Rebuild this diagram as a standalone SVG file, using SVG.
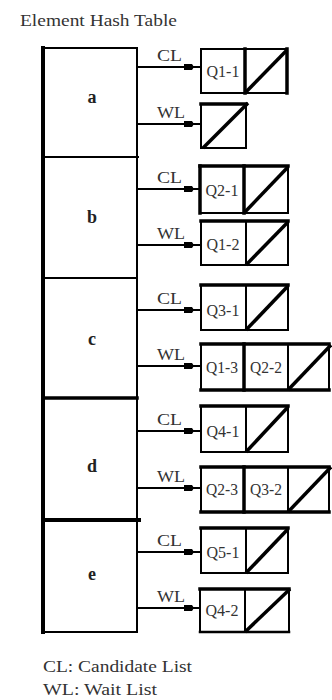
<svg xmlns="http://www.w3.org/2000/svg" width="332" height="700" viewBox="0 0 332 700">
<defs>
<marker id="blk" markerUnits="userSpaceOnUse" markerWidth="12" markerHeight="8" refX="10" refY="4" orient="auto">
<path d="M0,1 H8 L10,4 L8,7 H0 Z" fill="#000"/>
</marker>
</defs>
<style>
text{font-family:"Liberation Serif","Times New Roman",serif;fill:#333}
.t{font-size:17px}
.k{font-size:18px;font-weight:bold;fill:#222;text-anchor:middle}
.q{font-size:16px;text-anchor:middle}
.lb{font-size:16px}
.box{fill:#fff;stroke:#000;stroke-width:2}
.thk{stroke:#000;stroke-width:3.5;fill:none;stroke-linecap:square}
.thn{stroke:#000;stroke-width:2;fill:none}
.dg{stroke:#000;stroke-width:3.5;fill:none}
.cn{stroke:#000;stroke-width:2;fill:none;marker-mid:url(#blk)}
</style>
<rect width="332" height="700" fill="#fff"/>
<text class="t" x="20" y="26" textLength="157" lengthAdjust="spacingAndGlyphs">Element Hash Table</text>

<g id="hash-table">
<rect class="box" x="43" y="48" width="94" height="584"/>
<line class="thk" x1="43" y1="48" x2="43" y2="632" style="stroke-width:4"/>
<line class="thn" x1="43" y1="157" x2="139" y2="157"/>
<line class="thn" x1="43" y1="278" x2="137" y2="278"/>
<line class="thk" x1="43" y1="398" x2="137" y2="398"/>
<line class="thk" x1="43" y1="520" x2="139" y2="520" style="stroke-width:4"/>
</g>
<g id="row-a"><text class="k" x="92" y="103">a</text></g>
<g id="row-b"><text class="k" x="92" y="223">b</text></g>
<g id="row-c"><text class="k" x="92" y="345">c</text></g>
<g id="row-d"><text class="k" x="92" y="472">d</text></g>
<g id="row-e"><text class="k" x="92" y="580">e</text></g>

<g id="connectors">
<path class="cn" d="M137,67 H194 H201"/>
<path class="cn" d="M137,124 H194 H201"/>
<path class="cn" d="M137,189 H194 H201"/>
<path class="cn" d="M137,245 H194 H201"/>
<path class="cn" d="M137,310 H194 H201"/>
<path class="cn" d="M137,366 H194 H201"/>
<path class="cn" d="M137,431 H194 H201"/>
<path class="cn" d="M137,488 H194 H201"/>
<path class="cn" d="M137,552 H194 H201"/>
<path class="cn" d="M137,608 H194 H201"/>
<text class="lb" x="157" y="61" textLength="25" lengthAdjust="spacingAndGlyphs">CL</text>
<text class="lb" x="157" y="118" textLength="28" lengthAdjust="spacingAndGlyphs">WL</text>
<text class="lb" x="157" y="183" textLength="25" lengthAdjust="spacingAndGlyphs">CL</text>
<text class="lb" x="157" y="239" textLength="28" lengthAdjust="spacingAndGlyphs">WL</text>
<text class="lb" x="157" y="304" textLength="25" lengthAdjust="spacingAndGlyphs">CL</text>
<text class="lb" x="157" y="360" textLength="28" lengthAdjust="spacingAndGlyphs">WL</text>
<text class="lb" x="157" y="425" textLength="25" lengthAdjust="spacingAndGlyphs">CL</text>
<text class="lb" x="157" y="482" textLength="28" lengthAdjust="spacingAndGlyphs">WL</text>
<text class="lb" x="157" y="546" textLength="25" lengthAdjust="spacingAndGlyphs">CL</text>
<text class="lb" x="157" y="602" textLength="28" lengthAdjust="spacingAndGlyphs">WL</text>
</g>

<g id="a-cl">
<rect class="box" x="201" y="49" width="86" height="44"/>
<line class="thk" x1="245" y1="49" x2="245" y2="93"/>
<line class="thk" x1="287" y1="49" x2="287" y2="93"/>
<line class="dg" x1="245" y1="93" x2="287" y2="50"/>
<text class="q" x="223" y="77" textLength="33" lengthAdjust="spacingAndGlyphs">Q1-1</text>
</g>
<g id="a-wl">
<rect class="box" x="201" y="104" width="45" height="44"/>
<line class="thk" x1="201" y1="104" x2="246" y2="104"/>
<line class="dg" x1="203" y1="148" x2="248" y2="103"/>
</g>

<g id="b-cl">
<rect class="box" x="200" y="166" width="88" height="47"/>
<line class="thk" x1="200" y1="166" x2="288" y2="166"/>
<line class="thk" x1="200" y1="166" x2="200" y2="213"/>
<line class="thk" x1="244" y1="166" x2="244" y2="213"/>
<line class="dg" x1="244" y1="213" x2="288" y2="167"/>
<text class="q" x="222" y="196" textLength="33" lengthAdjust="spacingAndGlyphs">Q2-1</text>
</g>
<g id="b-wl">
<rect class="box" x="201" y="221" width="87" height="44"/>
<line class="thk" x1="201" y1="221" x2="288" y2="221"/>
<line class="thn" x1="246" y1="221" x2="246" y2="265"/>
<line class="dg" x1="246" y1="265" x2="288" y2="222"/>
<text class="q" x="223" y="250" textLength="33" lengthAdjust="spacingAndGlyphs">Q1-2</text>
</g>

<g id="c-cl">
<rect class="box" x="201" y="285" width="87" height="45"/>
<line class="thk" x1="201" y1="285" x2="288" y2="285"/>
<line class="thn" x1="246" y1="285" x2="246" y2="330"/>
<line class="dg" x1="246" y1="330" x2="288" y2="286"/>
<text class="q" x="223" y="316" textLength="33" lengthAdjust="spacingAndGlyphs">Q3-1</text>
</g>
<g id="c-wl">
<rect class="box" x="201" y="344" width="128" height="46"/>
<line class="thk" x1="201" y1="344" x2="329" y2="344"/>
<line class="thk" x1="201" y1="390" x2="329" y2="390"/>
<line class="thk" x1="244" y1="344" x2="244" y2="390"/>
<line class="thn" x1="288" y1="344" x2="288" y2="390"/>
<line class="dg" x1="288" y1="390" x2="331" y2="345"/>
<text class="q" x="222" y="373" textLength="32" lengthAdjust="spacingAndGlyphs">Q1-3</text>
<text class="q" x="266" y="373" textLength="32" lengthAdjust="spacingAndGlyphs">Q2-2</text>
</g>

<g id="d-cl">
<rect class="box" x="201" y="406" width="87" height="46"/>
<line class="thk" x1="201" y1="406" x2="288" y2="406"/>
<line class="thn" x1="246" y1="406" x2="246" y2="452"/>
<line class="dg" x1="246" y1="452" x2="288" y2="407"/>
<text class="q" x="223" y="437" textLength="33" lengthAdjust="spacingAndGlyphs">Q4-1</text>
</g>
<g id="d-wl">
<rect class="box" x="201" y="467" width="128" height="45"/>
<line class="thk" x1="201" y1="467" x2="329" y2="467"/>
<line class="thk" x1="201" y1="512" x2="329" y2="512"/>
<line class="thk" x1="244" y1="467" x2="244" y2="512"/>
<line class="thn" x1="288" y1="467" x2="288" y2="512"/>
<line class="dg" x1="288" y1="512" x2="331" y2="467"/>
<text class="q" x="222" y="495" textLength="32" lengthAdjust="spacingAndGlyphs">Q2-3</text>
<text class="q" x="266" y="495" textLength="32" lengthAdjust="spacingAndGlyphs">Q3-2</text>
</g>

<g id="e-cl">
<rect class="box" x="201" y="528" width="87" height="45"/>
<line class="thk" x1="201" y1="528" x2="288" y2="528"/>
<line class="thn" x1="246" y1="528" x2="246" y2="573"/>
<line class="dg" x1="246" y1="573" x2="288" y2="529"/>
<text class="q" x="223" y="558" textLength="33" lengthAdjust="spacingAndGlyphs">Q5-1</text>
</g>
<g id="e-wl">
<rect class="box" x="200" y="589" width="89" height="43"/>
<line class="thk" x1="200" y1="589" x2="289" y2="589"/>
<line class="thk" x1="200" y1="632" x2="289" y2="632" style="stroke-width:2.5"/>
<line class="thn" x1="245" y1="589" x2="245" y2="632"/>
<line class="dg" x1="245" y1="632" x2="290" y2="589"/>
<text class="q" x="222" y="616" textLength="33" lengthAdjust="spacingAndGlyphs">Q4-2</text>
</g>

<g id="legend">
<text class="lb" x="43" y="672" textLength="149" lengthAdjust="spacingAndGlyphs">CL: Candidate List</text>
<text class="lb" x="43" y="695" textLength="114" lengthAdjust="spacingAndGlyphs">WL: Wait List</text>
</g>
</svg>
